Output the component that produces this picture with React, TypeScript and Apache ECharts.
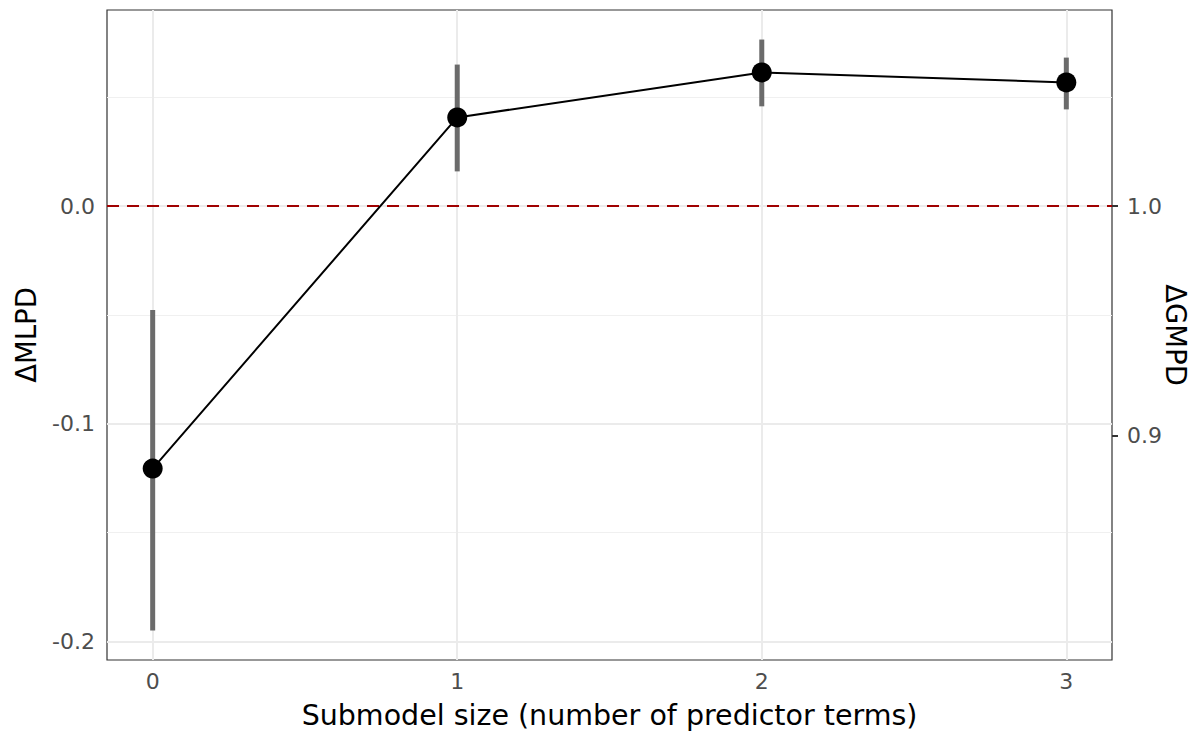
import React, { useEffect, useRef } from "react";
import * as echarts from "echarts";

const sizes = [0, 1, 2, 3];
const mlpd = [-0.1206, 0.0408, 0.0615, 0.0569];
const lower = [-0.195, 0.016, 0.0459, 0.0445];
const upper = [-0.0477, 0.0651, 0.0766, 0.0683];
const leftTicks = [-0.2, -0.1, 0.0];
const minorY = [-0.15, -0.05, 0.05];
const gmpdTicks = [0.9, 1.0];

export default function App() {
  const ref = useRef<HTMLDivElement>(null);
  useEffect(() => {
    if (!ref.current) return;
    const chart = echarts.init(ref.current, null, { renderer: "svg" });
    const lo = Math.min(...lower);
    const hi = Math.max(...upper);
    const ymin = lo - 0.05 * (hi - lo);
    const ymax = hi + 0.05 * (hi - lo);
    const xmin = sizes[0] - 0.05 * (sizes[sizes.length - 1] - sizes[0]);
    const xmax = sizes[sizes.length - 1] + 0.05 * (sizes[sizes.length - 1] - sizes[0]);
    const rightVals = gmpdTicks.map((v) => Math.log(v));
    const font = "DejaVu Sans";
    const gridLines: any[] = [
      ...leftTicks.map((v) => ({ yAxis: v, lineStyle: { color: "#ebebeb", width: 2, type: "solid" } })),
      ...minorY.map((v) => ({ yAxis: v, lineStyle: { color: "#f0f0f0", width: 1, type: "solid" } })),
      ...sizes.map((v) => ({ xAxis: v, lineStyle: { color: "#ebebeb", width: 2, type: "solid" } })),
    ];
    chart.setOption({
      animation: false,
      grid: {
        left: 107,
        right: 88,
        top: 10,
        bottom: 71,
        containLabel: false,
        outerBoundsMode: "none",
        show: true,
        borderColor: "#333333",
        borderWidth: 1.2,
        backgroundColor: "transparent",
      },
      xAxis: {
        type: "value",
        min: xmin,
        max: xmax,
        name: "Submodel size (number of predictor terms)",
        nameLocation: "middle",
        nameGap: 41,
        nameMoveOverlap: false,
        nameTextStyle: { fontFamily: font, fontSize: 28.5, color: "#000" },
        axisLine: { show: false },
        axisTick: { show: true, customValues: sizes, length: 6, lineStyle: { color: "#333", width: 2 } },
        axisLabel: {
          customValues: sizes,
          fontFamily: font,
          fontSize: 22,
          color: "#4d4d4d",
          margin: 10,
          formatter: (v: number) => String(v),
        },
        splitLine: { show: false },
      },
      yAxis: [
        {
          type: "value",
          min: ymin,
          max: ymax,
          name: "ΔMLPD",
          nameLocation: "middle",
          nameGap: 67,
          nameMoveOverlap: false,
          nameTextStyle: { fontFamily: font, fontSize: 27.5, color: "#000" },
          axisLine: { show: false },
          axisTick: { show: true, customValues: leftTicks, length: 6, lineStyle: { color: "#333", width: 2 } },
          axisLabel: {
            customValues: leftTicks,
            fontFamily: font,
            fontSize: 22,
            color: "#4d4d4d",
            margin: 12,
            formatter: (v: number) => v.toFixed(1),
          },
          splitLine: { show: false },
        },
        {
          type: "value",
          position: "right",
          min: ymin,
          max: ymax,
          name: "ΔGMPD",
          nameLocation: "middle",
          nameRotate: -90,
          nameGap: 50,
          nameMoveOverlap: false,
          nameTextStyle: { fontFamily: font, fontSize: 27.5, color: "#000" },
          axisLine: { show: false },
          axisTick: { show: true, customValues: rightVals, length: 6, lineStyle: { color: "#333", width: 2 } },
          axisLabel: {
            customValues: rightVals,
            fontFamily: font,
            fontSize: 22,
            color: "#4d4d4d",
            margin: 15,
            formatter: (v: number) => Math.exp(v).toFixed(1),
          },
          splitLine: { show: false },
        },
      ],
      series: [
        {
          type: "line",
          data: [],
          silent: true,
          z: 0,
          markLine: {
            silent: true,
            symbol: "none",
            label: { show: false },
            data: gridLines,
          },
        },
        {
          type: "line",
          data: [],
          silent: true,
          z: 1,
          markLine: {
            silent: true,
            symbol: "none",
            label: { show: false },
            data: [{ yAxis: 0, lineStyle: { color: "#a00000", width: 2, type: [12, 8] } }],
          },
        },
        {
          type: "custom",
          z: 5,
          renderItem: (params: any, api: any) => {
            const x = api.value(0);
            const p1 = api.coord([x, api.value(1)]);
            const p2 = api.coord([x, api.value(2)]);
            return {
              type: "line",
              shape: { x1: p1[0], y1: p1[1], x2: p2[0], y2: p2[1] },
              style: { stroke: "#6b6b6b", lineWidth: 5, fill: null },
            };
          },
          data: sizes.map((s, i) => [s, lower[i], upper[i]]),
        },
        {
          type: "line",
          data: sizes.map((s, i) => [s, mlpd[i]]),
          lineStyle: { color: "#000", width: 2 },
          itemStyle: { color: "#000" },
          symbol: "circle",
          symbolSize: 20,
          showSymbol: true,
          z: 6,
        },
      ],
    });
    return () => chart.dispose();
  }, []);
  return (
    <div
      ref={ref}
      style={{ position: "fixed", left: 0, top: 0, width: 1200, height: 731, background: "#fff" }}
    />
  );
}
